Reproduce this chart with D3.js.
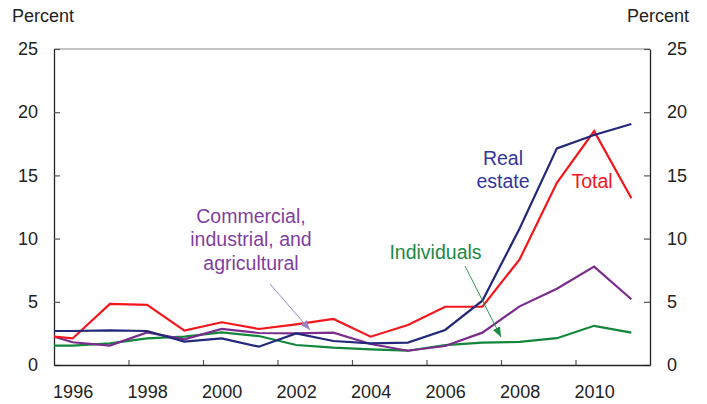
<!DOCTYPE html>
<html>
<head>
<meta charset="utf-8">
<script src="https://cdn.jsdelivr.net/npm/d3@7"></script>
<style>
  body { margin: 0; background: #fff; }
  svg text { font-family: "Liberation Sans", Arial, sans-serif; }
</style>
</head>
<body>
<div id="chart"></div>
<script>
// annual values, percent (1995 only feeds the clipped start of each line)
var years = [1995, 1996, 1997, 1998, 1999, 2000, 2001, 2002, 2003, 2004, 2005, 2006, 2007, 2008, 2009, 2010, 2011];
var total = [2.38, 2.1, 4.83, 4.75, 2.72, 3.38, 2.85, 3.22, 3.64, 2.24, 3.16, 4.61, 4.61, 8.36, 14.42, 18.5, 13.19];
var realEstate = [2.69, 2.69, 2.74, 2.69, 1.85, 2.1, 1.45, 2.5, 1.9, 1.71, 1.77, 2.77, 5.09, 10.8, 17.14, 18.2, 19.07];
var commercial = [2.68, 1.8, 1.53, 2.58, 2.03, 2.85, 2.53, 2.5, 2.56, 1.66, 1.13, 1.5, 2.56, 4.64, 6.03, 7.78, 5.2];
var individuals = [1.53, 1.53, 1.71, 2.1, 2.24, 2.58, 2.29, 1.58, 1.37, 1.24, 1.13, 1.58, 1.77, 1.83, 2.12, 3.1, 2.56];

var yTicks = [0, 5, 10, 15, 20, 25];
var xLabels = [1996, 1998, 2000, 2002, 2004, 2006, 2008, 2010];
var xTickMarks = [1997.5, 1999.5, 2001.5, 2003.5, 2005.5, 2007.5, 2009.5];

var svgWidth = 707;
var svgHeight = 404;

var margins = { top: 49, bottom: 39, left: 54, right: 57 };
var chartWidth = svgWidth - margins.left - margins.right;
var chartHeight = svgHeight - margins.top - margins.bottom;

var svg = d3.select('#chart')
    .append('svg')
    .attr('width', svgWidth)
    .attr('height', svgHeight);

var chartGroup = svg.append('g')
    .attr('transform', `translate(${margins.left}, ${margins.top})`);

// Scales
var xScale = d3.scaleLinear()
    .domain([1995.5, 2011.5])
    .range([0, chartWidth]);

var yScale = d3.scaleLinear()
    .domain([0, 25])
    .range([chartHeight, 0]);

svg.append('clipPath').attr('id', 'plot')
    .append('rect')
    .attr('width', chartWidth)
    .attr('height', chartHeight);

// top border
chartGroup.append('line')
    .attr('x1', 0).attr('x2', chartWidth)
    .attr('y1', 0).attr('y2', 0)
    .attr('stroke', '#8c8c8c')
    .attr('stroke-width', 1.2);

// Axes
var leftAxis = d3.axisLeft(yScale).tickValues(yTicks)
    .tickSizeInner(-6).tickSizeOuter(0).tickPadding(16);
var rightAxis = d3.axisRight(yScale).tickValues(yTicks)
    .tickSizeInner(-6).tickSizeOuter(0).tickPadding(17);
var bottomTicks = d3.axisBottom(xScale).tickValues(xTickMarks)
    .tickSizeInner(-5).tickSizeOuter(0).tickFormat('');
var bottomLabels = d3.axisBottom(xScale).tickValues(xLabels)
    .tickSize(0).tickPadding(20).tickFormat(d3.format('d'));

function styleAxis(g) {
    g.selectAll('path').attr('stroke', '#222').attr('stroke-width', 1.3);
    g.selectAll('line').attr('stroke', '#555').attr('stroke-width', 1.2);
    g.selectAll('text').attr('font-size', 18).attr('fill', '#222')
        .style('font-family', '"Liberation Sans", Arial, sans-serif');
}

chartGroup.append('g').call(leftAxis).call(styleAxis);
chartGroup.append('g')
    .attr('transform', `translate(${chartWidth}, 0)`)
    .call(rightAxis).call(styleAxis);
chartGroup.append('g')
    .attr('transform', `translate(0, ${chartHeight})`)
    .call(bottomTicks).call(styleAxis);
var lbl = chartGroup.append('g')
    .attr('transform', `translate(0, ${chartHeight})`)
    .call(bottomLabels).call(styleAxis);
lbl.select('.domain').remove();

svg.append('text').attr('x', 12).attr('y', 22).attr('font-size', 18)
    .attr('fill', '#222').text('Percent');
svg.append('text').attr('x', 689).attr('y', 22).attr('font-size', 18)
    .attr('text-anchor', 'end').attr('fill', '#222').text('Percent');

// Lines
var line = d3.line()
    .x((d, i) => xScale(years[i]))
    .y(d => yScale(d));

var series = [
    { values: individuals, color: '#13863b' },
    { values: commercial, color: '#7b2c8d' },
    { values: total, color: '#f4161c' },
    { values: realEstate, color: '#23287a' }
];

var lines = chartGroup.append('g').attr('clip-path', 'url(#plot)');
series.forEach(function(s) {
    lines.append('path')
        .datum(s.values)
        .attr('d', line)
        .attr('fill', 'none')
        .attr('stroke', s.color)
        .attr('stroke-width', 2.2)
        .attr('stroke-linejoin', 'miter');
});

// Labels
function label(lines, x, y0, color) {
    var t = svg.append('text')
        .attr('text-anchor', 'middle')
        .attr('font-size', 19.5)
        .attr('fill', color);
    lines.forEach(function(s, i) {
        t.append('tspan').attr('x', x).attr('y', y0 + i * 23.5).text(s);
    });
}
label(['Real', 'estate'], 503, 164.5, '#34379a');
label(['Total'], 592, 188, '#f4161c');
label(['Individuals'], 435.5, 259, '#1b8a45');
label(['Commercial,', 'industrial, and', 'agricultural'], 251, 222.5, '#7f3f9e');

// arrows
var defs = svg.append('defs');
function marker(id, color) {
    defs.append('marker').attr('id', id)
        .attr('viewBox', '0 0 10 10').attr('refX', 10).attr('refY', 5)
        .attr('markerWidth', 10).attr('markerHeight', 10)
        .attr('markerUnits', 'userSpaceOnUse')
        .attr('orient', 'auto')
        .append('path').attr('d', 'M0,1 L10,5 L0,9 Z').attr('fill', color);
}
marker('arrPurple', '#9a86c6');
marker('arrGreen', '#1b8a45');

svg.append('line').attr('x1', 270).attr('y1', 284).attr('x2', 310).attr('y2', 330)
    .attr('stroke', '#9a86c6').attr('stroke-width', 1)
    .attr('marker-end', 'url(#arrPurple)');
svg.append('line').attr('x1', 465).attr('y1', 266).attr('x2', 501).attr('y2', 337)
    .attr('stroke', '#1b8a45').attr('stroke-width', 0.9)
    .attr('marker-end', 'url(#arrGreen)');
</script>
</body>
</html>
